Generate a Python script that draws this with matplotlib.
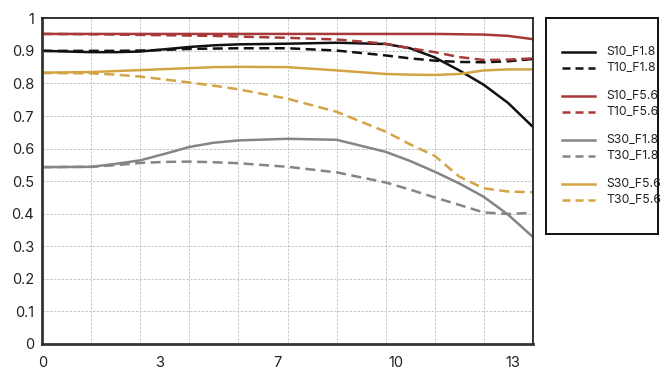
import numpy as np
import matplotlib
matplotlib.use("Agg")
import matplotlib.pyplot as plt

plt.rcParams["font.family"] = ["Inter", "DejaVu Sans"]

# image height (mm) where the curves were read
x_mm = [0, 1.375, 2.06, 2.75, 3.44, 4.125, 4.81, 5.5, 6.875, 8.25,
        9.625, 10.31, 11.0, 11.69, 12.375, 13.06, 13.75]

s10_f18 = [0.900, 0.896, 0.896, 0.898, 0.905, 0.912, 0.917, 0.920, 0.922, 0.925,
           0.921, 0.908, 0.880, 0.840, 0.796, 0.740, 0.667]
t10_f18 = [0.900, 0.900, 0.900, 0.901, 0.903, 0.906, 0.907, 0.908, 0.908, 0.901,
           0.886, 0.877, 0.870, 0.866, 0.865, 0.868, 0.875]
s10_f56 = [0.952, 0.952, 0.952, 0.952, 0.952, 0.952, 0.952, 0.952, 0.952, 0.952,
           0.952, 0.952, 0.952, 0.951, 0.950, 0.946, 0.936]
t10_f56 = [0.952, 0.951, 0.950, 0.949, 0.948, 0.947, 0.946, 0.944, 0.940, 0.935,
           0.922, 0.908, 0.896, 0.881, 0.872, 0.873, 0.877]
s30_f18 = [0.543, 0.544, 0.553, 0.564, 0.584, 0.605, 0.618, 0.625, 0.630, 0.627,
           0.590, 0.562, 0.529, 0.493, 0.452, 0.397, 0.329]
t30_f18 = [0.543, 0.544, 0.549, 0.556, 0.559, 0.560, 0.558, 0.555, 0.544, 0.527,
           0.496, 0.474, 0.450, 0.427, 0.404, 0.399, 0.403]
s30_f56 = [0.833, 0.835, 0.838, 0.841, 0.844, 0.847, 0.850, 0.851, 0.850, 0.840,
           0.829, 0.827, 0.826, 0.829, 0.840, 0.843, 0.843]
t30_f56 = [0.832, 0.831, 0.827, 0.821, 0.812, 0.803, 0.793, 0.782, 0.753, 0.713,
           0.652, 0.613, 0.578, 0.514, 0.478, 0.468, 0.466]

series = [
    ("S10_F1.8", s10_f18, "#111111", "-"),
    ("T10_F1.8", t10_f18, "#111111", "--"),
    ("S10_F5.6", s10_f56, "#a8393a", "-"),
    ("T10_F5.6", t10_f56, "#a8393a", "--"),
    ("S30_F1.8", s30_f18, "#858585", "-"),
    ("T30_F1.8", t30_f18, "#858585", "--"),
    ("S30_F5.6", s30_f56, "#d4a444", "-"),
    ("T30_F5.6", t30_f56, "#d4a444", "--"),
]

x_max = 13.75
x_tick_pos = [0, 3.3, 6.6, 9.9, 13.2]
x_tick_labels = ["0", "3", "7", "10", "13"]
y_ticks = [0, 0.1, 0.2, 0.3, 0.4, 0.5, 0.6, 0.7, 0.8, 0.9, 1]
y_tick_labels = ["0", "0.1", "0.2", "0.3", "0.4", "0.5", "0.6", "0.7", "0.8", "0.9", "1"]

fig = plt.figure(figsize=(6.67, 3.78), dpi=100)
ax = fig.add_axes([0.0634, 0.09, 0.7353, 0.8616])

dash = (0, (4, 2.2))
for name, vals, color, ls in series:
    ax.plot(x_mm, vals, color=color, lw=1.8,
            linestyle=dash if ls == "--" else "-", solid_capstyle="butt",
            solid_joinstyle="round")

ax.set_xlim(0, x_max)
ax.set_ylim(0, 1)
ax.set_xticks(x_tick_pos)
ax.set_xticklabels(x_tick_labels)
ax.set_xticks(np.linspace(0, x_max, 11), minor=True)
ax.set_yticks(y_ticks)
ax.set_yticklabels(y_tick_labels)
ax.tick_params(axis="both", which="both", length=0, labelsize=10.5, colors="#222222")
ax.tick_params(axis="x", pad=9)
ax.tick_params(axis="y", pad=6)

grid_style = dict(color="#c6c6c6", lw=0.7, linestyle=(0, (2.5, 1.5)))
ax.grid(which="minor", axis="x", **grid_style)
ax.grid(which="major", axis="y", **grid_style)
ax.grid(which="major", axis="x", visible=False)
ax.set_axisbelow(True)

for side in ["top", "right"]:
    ax.spines[side].set_linewidth(1.3)
    ax.spines[side].set_color("#222222")
for side in ["left", "bottom"]:
    ax.spines[side].set_linewidth(2)
    ax.spines[side].set_color("#333333")

# legend panel drawn by hand to get the paired spacing
lg = fig.add_axes([545.7 / 667, 1 - 234 / 378, 112.6 / 667, 215.7 / 378])
lg.set_xlim(545.7, 658.3)
lg.set_ylim(234, 18.3)
lg.set_xticks([])
lg.set_yticks([])
for sp in lg.spines.values():
    sp.set_linewidth(1.4)
    sp.set_color("#111111")

row_y = [51.7, 67.7, 95.7, 111.7, 139.7, 155.7, 183.7, 199.7]
for (name, vals, color, ls), yy in zip(series, row_y):
    lg.plot([562, 595], [yy, yy], color=color, lw=1.8,
            linestyle=(0, (3.2, 2)) if ls == "--" else "-")
    lg.text(606, yy, name, fontsize=8.8, va="center", ha="left", color="#222222")

fig.savefig("out.png", dpi=100)
